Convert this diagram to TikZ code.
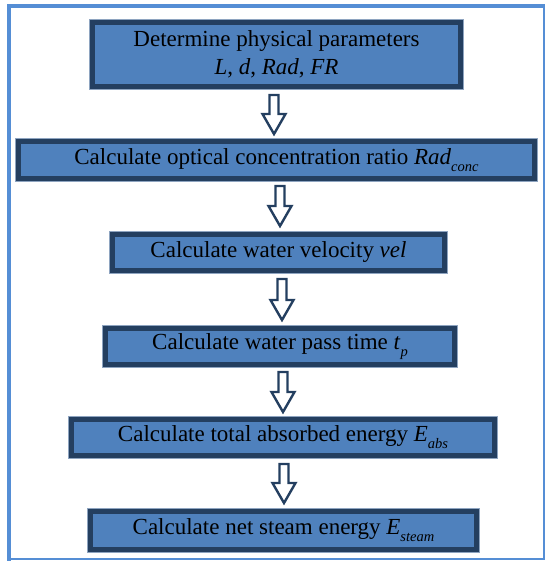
\documentclass[tikz,border=0pt]{standalone}
\usepackage{fontspec}
\setmainfont{Liberation Serif}
\usetikzlibrary{calc}
\definecolor{boxfill}{HTML}{4F81BD}
\definecolor{boxedge}{HTML}{243F60}
\definecolor{boxhalo}{HTML}{8EA4C0}
\definecolor{frameblue}{HTML}{558ED5}
\newcommand{\sbs}[1]{\raisebox{-0.3em}{\fontsize{14.5}{14.5}\selectfont\itshape #1}}
\begin{document}
\begin{tikzpicture}[x=1pt,y=-1pt,
  stepbox/.style={draw=boxedge, line width=5pt, fill=boxfill,
    preaction={draw=boxhalo, line width=7pt},
    inner sep=0pt, align=center, text=black,
    font=\fontsize{23}{28}\selectfont},
  blockarrow/.style={draw=boxedge, fill=white, line width=2.4pt, line join=miter,
    to path={let \p1=(\tikztostart), \p2=(\tikztotarget) in
      (\x1-4.5pt,\y1) -- (\x1+4.5pt,\y1) -- (\x1+4.5pt,\y2+20pt) -- (\x1+11.5pt,\y2+20pt)
      -- (\x1,\y2) -- (\x1-11.5pt,\y2+20pt) -- (\x1-4.5pt,\y2+20pt) -- cycle}}]
\useasboundingbox (0,0) rectangle (546,561);
% outer frame
\draw[frameblue, line width=2pt] (9,6.5) -- (544,6.5) -- (544,559) -- (9,559);
\draw[frameblue, line width=4pt] (9,561) -- (9,6.5) -- (545,6.5);
% boxes
\node[stepbox, minimum width=368pt, minimum height=64pt] (b1) at (276.5,54.5)
  {Determine physical parameters\\ \textit{L}, \textit{d}, \textit{Rad}, \textit{FR}};
\node[stepbox, minimum width=516pt, minimum height=37pt] (b2) at (276.5,160)
  {Calculate optical concentration ratio \textit{Rad}\sbs{conc}};
\node[stepbox, minimum width=332pt, minimum height=36pt] (b3) at (278.5,252.5)
  {Calculate water velocity \textit{vel}};
\node[stepbox, minimum width=349pt, minimum height=36pt] (b4) at (280,346.5)
  {Calculate water pass time \textit{t}\sbs{p}};
\node[stepbox, minimum width=423pt, minimum height=36pt] (b5) at (283,437.5)
  {Calculate total absorbed energy \textit{E}\sbs{abs}};
\node[stepbox, minimum width=386pt, minimum height=38pt] (b6) at (283.5,530.5)
  {Calculate net steam energy \textit{E}\sbs{steam}};
% arrow columns
\coordinate (ax1) at (274,0);
\coordinate (ax2) at (280,0);
\coordinate (ax3) at (282,0);
\coordinate (ax4) at (283,0);
\coordinate (ax5) at (284,0);
\draw[blockarrow] ([yshift=-6pt]b1.south -| ax1) to ([yshift=5pt]b2.north -| ax1);
\draw[blockarrow] ([yshift=-5pt]b2.south -| ax2) to ([yshift=6pt]b3.north -| ax2);
\draw[blockarrow] ([yshift=-6pt]b3.south -| ax3) to ([yshift=6pt]b4.north -| ax3);
\draw[blockarrow] ([yshift=-5pt]b4.south -| ax4) to ([yshift=5pt]b5.north -| ax4);
\draw[blockarrow] ([yshift=-6pt]b5.south -| ax5) to ([yshift=6pt]b6.north -| ax5);
\end{tikzpicture}
\end{document}
